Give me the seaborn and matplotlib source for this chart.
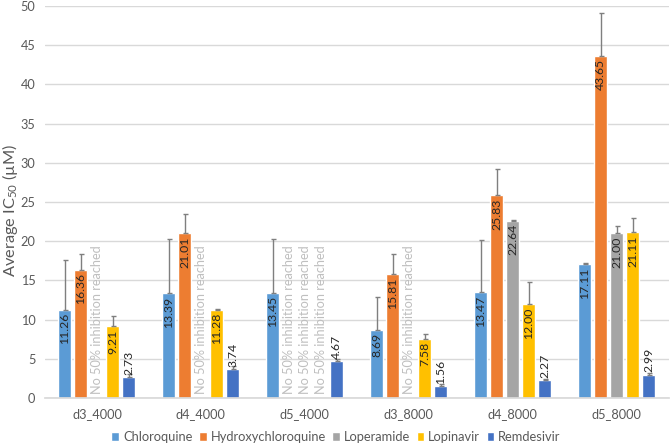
import numpy as np
import pandas as pd
import matplotlib
matplotlib.use("Agg")
import matplotlib.pyplot as plt
import seaborn as sns

nan = np.nan
groups = ["d3_4000", "d4_4000", "d5_4000", "d3_8000", "d4_8000", "d5_8000"]
drugs = ["Chloroquine", "Hydroxychloroquine", "Loperamide", "Lopinavir", "Remdesivir"]
chloroquine = [11.26, 13.39, 13.45, 8.69, 13.47, 17.11]
hydroxychloroquine = [16.36, 21.01, nan, 15.81, 25.83, 43.65]
loperamide = [nan, nan, nan, nan, 22.64, 21.00]
lopinavir = [9.21, 11.28, nan, 7.58, 12.00, 21.11]
remdesivir = [2.73, 3.74, 4.67, 1.56, 2.27, 2.99]

chloroquine_err = [6.3, 6.85, 6.8, 4.2, 6.7, 0.1]
hydroxychloroquine_err = [1.95, 2.45, nan, 2.6, 3.4, 5.5]
loperamide_err = [nan, nan, nan, nan, 0.05, 0.9]
lopinavir_err = [1.2, 0.1, nan, 0.6, 2.8, 1.85]
remdesivir_err = [0.3, 0.3, 0.25, 0.2, 0.2, 0.25]

colors = ["#5B9BD5", "#ED7D31", "#A5A5A5", "#FFC000", "#4472C4"]
no_inhib = "No 50% inhibition reached"

values = [chloroquine, hydroxychloroquine, loperamide, lopinavir, remdesivir]
errs = [chloroquine_err, hydroxychloroquine_err, loperamide_err, lopinavir_err, remdesivir_err]

rows = []
for d, vals, es in zip(drugs, values, errs):
    for g, v, e in zip(groups, vals, es):
        rows.append({"group": g, "drug": d, "value": v, "err": e})
df = pd.DataFrame(rows)

sns.set_theme(style="white")
plt.rcParams["font.family"] = ["Lato", "DejaVu Sans"]
plt.rcParams["mathtext.fontset"] = "custom"
plt.rcParams["mathtext.rm"] = "Lato"
plt.rcParams["mathtext.it"] = "Lato:italic"
plt.rcParams["mathtext.bf"] = "Lato:bold"

W, H = 672, 445
fig = plt.figure(figsize=(W / 100, H / 100), dpi=100)
ax_left, ax_right, ax_top, ax_bottom = 45, 668.5, 6, 398
ax = fig.add_axes([ax_left / W, 1 - ax_bottom / H, (ax_right - ax_left) / W, (ax_bottom - ax_top) / H])

group_width = 0.77
sns.barplot(data=df.dropna(subset=["value"]), x="group", y="value", hue="drug",
            order=groups, hue_order=drugs, palette=colors, width=group_width, gap=0.19,
            errorbar=None, saturation=1, ax=ax, legend=True)

nd = len(drugs)
slot = group_width / nd
for di, d in enumerate(drugs):
    for gi, g in enumerate(groups):
        x = gi - group_width / 2 + slot * (di + 0.5)
        v = values[di][gi]
        e = errs[di][gi]
        if np.isnan(v):
            ax.text(x, 0.5, no_inhib, rotation=90, ha="center", va="bottom",
                    color="#BFBFBF", fontsize=9.2)
            continue
        ax.errorbar(x, v, yerr=[[0], [e]], fmt="none", ecolor="#7F7F7F",
                    elinewidth=1, capsize=1.8, capthick=1, zorder=3)
        label = f"{v:.2f}"
        if v < 5:
            ax.annotate(label, (x, v), xytext=(0, 1.5), textcoords="offset points",
                        rotation=90, ha="center", va="bottom", color="#262626",
                        fontsize=8.8, zorder=4)
        else:
            ax.annotate(label, (x, v), xytext=(0, -2.5), textcoords="offset points",
                        rotation=90, ha="center", va="top", color="#262626",
                        fontsize=8.8, zorder=4)

ax.set_xlim(-0.5, 5.5)
ax.set_ylim(0, 50)
ax.set_yticks(np.arange(0, 51, 5))
ax.yaxis.grid(True, color="#D9D9D9", linewidth=1)
ax.set_axisbelow(True)
for s in ["top", "right", "left"]:
    ax.spines[s].set_visible(False)
ax.spines["bottom"].set_color("#D9D9D9")
ax.tick_params(axis="both", length=0, colors="#595959", labelsize=9.2)
ax.tick_params(axis="x", pad=7)
ax.tick_params(axis="y", pad=7)
ax.set_xlabel("")
ax.set_ylabel("")
fig.text(9.8 / W, 1 - 210 / H, "Average IC$_{50}$ (µM)", rotation=90,
         ha="center", va="center", fontsize=11.8, color="#595959")

handles, labels = ax.get_legend_handles_labels()
ax.legend(handles, labels, loc="center", bbox_to_anchor=(336 / W, 1 - 437 / H),
          bbox_transform=fig.transFigure, ncol=5,
          frameon=False, fontsize=9.3, handlelength=0.6, handleheight=0.6,
          handletextpad=0.3, columnspacing=0.5, labelcolor="#595959", borderpad=0)

fig.savefig("out.png", dpi=100)
